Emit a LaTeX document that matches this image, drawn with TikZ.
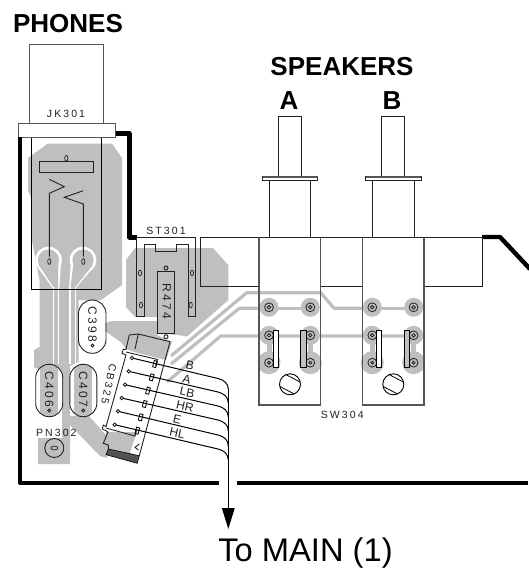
\documentclass[tikz,border=0pt]{standalone}
\usepackage{fontspec}
\usetikzlibrary{arrows.meta}
\setmainfont{Liberation Sans}
\newfontfamily\plotfont[LetterSpace=20]{Liberation Sans}
\definecolor{copper}{HTML}{BFBFBF}
\definecolor{ink}{HTML}{222222}
\definecolor{edge}{HTML}{555555}
\tikzset{
  cu/.style={fill=copper,draw=none},
  track/.style={draw=copper,line width=3.2pt,line join=round},
  thin/.style={draw=ink,line width=0.9pt},
  body/.style={draw=edge,line width=1.1pt},
  heavy/.style={draw=black,line width=4.4pt,line join=round},
  wire/.style={draw=black,line width=1pt},
  title/.style={font=\bfseries\fontsize{26}{26}\selectfont,anchor=base,inner sep=0pt},
  plot/.style={font=\plotfont\fontsize{10.5}{10.5}\selectfont,inner sep=0pt,text=ink},
  capl/.style={font=\plotfont\fontsize{12}{12}\selectfont,inner sep=0pt,text=ink},
  wl/.style={font=\fontsize{12}{12}\selectfont,inner sep=0pt,rotate=-13,text=ink},
  stub/.style={draw=black,line width=0.8pt,fill=none,minimum width=3.2pt,minimum height=6.5pt,inner sep=0pt,rotate=-15},
}
\newcommand{\zeroV}[2]{\draw[thin,line width=0.7pt] (#1,#2) ellipse [x radius=1.6pt,y radius=2.9pt];}
\begin{document}
\begin{tikzpicture}[x=1pt,y=-1pt]
\useasboundingbox (0,0) rectangle (528,568);
\fill[white] (0,0) rectangle (528,568);
% copper: under the jack
\fill[cu] (28,158) -- (48,143.5) -- (112,143.5) -- (122,158) -- (122,285) -- (101,300) -- (78.5,300) -- (78.5,362) -- (70,366) -- (70,416) -- (88,415) -- (107,436) -- (107,458) -- (100,456) -- (70,425) -- (70,464) -- (38,464) -- (38,438) -- (62,438) -- (62,372) -- (34,368) -- (34,350) -- (39.5,347) -- (39.5,280) -- (36,262) -- (32,240) -- (32,200) -- (28,190) -- cycle;
% copper: around ST301
\fill[cu] (135,248) -- (213,248) -- (228.3,265) -- (228.3,300) -- (187,336.5) -- (178,335) -- (157,333) -- (157,317) -- (135,317) -- (126,307) -- (126,260) -- cycle;
\fill[cu] (105,323) -- (112,321) -- (157,321) -- (157,335) -- (172,342) -- (166,360) -- (134,352) -- (126,349) -- (122,343) -- (105,331) -- cycle;
\fill[cu] (106,432) -- (137,432) -- (128,458) -- (104,452) -- cycle;
% rings and channels below the jack
\foreach \px/\tx in {48.5/56,83/72.5}{
  \fill[white] (\px,260) circle [radius=13.3pt];
  \fill[white] (\px-12.3,265) -- (\px+12.3,265) -- (\tx+3.4,288) -- (\tx-3.4,288) -- cycle;
  \fill[cu] (\px,260) circle [radius=10.6pt];
  \fill[cu] (\px-9.8,265) -- (\px+9.8,265) -- (\tx+2,288) -- (\tx-2,288) -- cycle;
  \fill[white] (\tx-3.4,287) rectangle (\tx-2,364);
  \fill[white] (\tx+2,287) rectangle (\tx+3.4,364);
}
% tracks to the switches
\path[track] (171,356) -- (246.7,292.7) -- (320.7,292.7) -- (334,308.3) -- (363.3,308.3);
\path[track] (171,364) -- (239.3,308.3) -- (269,308.3);
\path[track] (167,382) -- (220.7,336) -- (410,336);
\path[track] (310,308.3) -- (270,308.3);
\path[track] (372,308.3) -- (414,308.3);
\foreach \x in {269,310.3,372.3,413.7}{
  \fill[copper] (\x,307.3) circle [radius=9.5pt];
  \fill[copper] (\x,335.3) circle [radius=9.5pt];
  \fill[copper] (\x,362.7) circle [radius=11.5pt];
  \fill[copper] (\x-2.5,335) rectangle (\x+2.5,362);
}
% phone jack
\node[draw=edge,line width=1pt,minimum width=74pt,minimum height=80pt,inner sep=0pt] (plug) at (66,84) {};
\node[draw=black,line width=1pt,minimum width=70pt,minimum height=152pt,inner sep=0pt] (jackbody) at (66.5,213) {};
\node[draw=edge,line width=1pt,fill=white,minimum width=97pt,minimum height=13.5pt,inner sep=0pt] (flange) at (66.5,130.5) {};
\node[plot] (jk) at (66,113.7) {JK301};
\node[draw=ink,line width=0.9pt,minimum width=54pt,minimum height=10.6pt,inner sep=0pt] (bar) at (66.3,167) {};
\zeroV{66.3}{158.3}
\draw[thin] (49.3,256.7) -- (49.3,193.3) -- (64.3,186.7) -- (49.3,179.3);
\draw[thin] (83.3,256.7) -- (83.3,204) -- (64.3,197.3) -- (83.3,190.7);
\zeroV{49.3}{261.5}
\zeroV{83.3}{261.5}
% heavy chassis line
\draw[heavy] (flange.east |- 0,133.5) -- (129.3,133.5) -- (129.3,237.3) -- (137,237.3);
\draw[heavy] (20,137) -- (20,482.7) -- (219,482.7);
\draw[heavy] (237,482.7) -- (528,482.7);
\draw[heavy] (482,237) -- (500,237) -- (530,269);
% ST301
\draw[thin] (136.7,237.3) -- (195,237.3) -- (195,316.7) -- (188.3,316.7) -- (188.3,244) -- (176.7,244) -- (176.7,251.7) -- (155.7,251.7) -- (155.7,244) -- (144,244) -- (144,316.7) -- (136.7,316.7) -- cycle;
\node[plot] (st) at (166,230.5) {ST301};
\zeroV{140}{273}
\zeroV{141}{305}
\zeroV{192}{273}
\zeroV{190.7}{305}
% R474
\node[draw=ink,line width=0.9pt,minimum width=17pt,minimum height=62pt,inner sep=0pt] (res) at (166.2,302.3) {};
\node[capl,rotate=-90] (restext) at (166.7,301.5) {R474};
\draw[thin] (166,268) circle [radius=2pt];
\draw[thin] (166,336.7) circle [radius=2pt];
% rear panel lines
\draw[draw=ink,line width=0.9pt] (259,286) -- (200.7,286) -- (200.7,237) -- (482,237) -- (482,286) -- (424,286);
\draw[draw=ink,line width=0.9pt] (320.7,286) -- (362.3,286);
% switches
\foreach \o/\n in {0/a,103.3/b}{
  \begin{scope}[xshift=\o pt]
  \draw[thin] (278.3,176.7) -- (278.3,116.3) -- (301.3,116.3) -- (301.3,176.7);
  \draw[thin,fill=white] (262.3,176.7) rectangle (317.7,180.7);
  \draw[edge,line width=1.3pt] (262.5,177) -- (317.5,177);
  \draw[thin] (269.3,180.7) -- (269.3,237);
  \draw[thin] (310.7,180.7) -- (310.7,237);
  \draw[body] (259,237) -- (259,405) -- (320.7,405) -- (320.7,237);
  % pads
  \foreach \x in {269,310.3}{
    \draw[ink,line width=0.8pt] (\x,307.3) circle [radius=4.4pt];
    \draw[ink,line width=0.8pt] (\x,307.3) circle [radius=1.8pt];
    \draw[ink,line width=0.8pt] (\x,335.3) circle [radius=4.4pt];
    \draw[ink,line width=0.8pt] (\x,335.3) circle [radius=1.8pt];
    \draw[ink,line width=0.8pt] (\x,362.7) circle [radius=4.4pt];
    \draw[ink,line width=0.8pt] (\x,362.7) circle [radius=1.5pt];
  }
  \draw[draw=black,line width=0.9pt,fill=white] (273.3,330.3) rectangle (278.3,367.3);
  \draw[draw=black,line width=0.9pt,fill=copper] (300.7,330.3) rectangle (306,367.3);
  % screw
  \draw[draw=black,line width=0.9pt,fill=white] (290,384.3) circle [radius=10.5pt];
  \begin{scope}
    \clip (290,384.3) circle [radius=10.5pt];
    \draw[draw=black,line width=0.8pt] (279,371) -- (301,382.5);
    \draw[draw=black,line width=0.8pt] (279,386) -- (301,397.5);
  \end{scope}
  \end{scope}
}
\node[plot] (sw) at (342.3,415) {SW304};
% capacitors
\draw[thin,rounded corners=13.7pt] (78.5,300) rectangle (106,353.3);
\node[capl,rotate=-90] (c398) at (92.5,324.5) {C398};
\draw[thin] (92.5,345.5) circle [radius=1.5pt];
\foreach \cx/\lab in {49.2/C406,83.3/C407}{
  \begin{scope}
    \clip[rounded corners=13.3pt] (\cx-13.5,364.3) rectangle (\cx+13.5,416.7);
    \fill[white] (\cx-14,364) rectangle (\cx+14,417);
    \fill[copper] (\cx-9,364) rectangle (\cx+9,417);
  \end{scope}
  \draw[thin,rounded corners=13.3pt] (\cx-13.5,364.3) rectangle (\cx+13.5,416.7);
  \node[capl,rotate=-90] at (\cx,389.5) {\lab};
  \draw[thin] (\cx,410.5) circle [radius=1.5pt];
}
% PN302
\node[plot] (pn) at (56.3,433) {PN302};
\node[draw=ink,line width=0.9pt,circle,minimum size=19pt,inner sep=0pt] (pnc) at (54.3,448) {};
\draw[thin,line width=0.7pt] (54.3,448) ellipse [x radius=3.5pt,y radius=1.9pt];
% connector CB325
\draw[thin] (138.3,334) -- (170,341.7) -- (139.3,455.7);
\draw[thin] (138.3,334) -- (135,349);
\draw[thin] (138.3,334) -- (129.3,335) -- (126,349.3) -- (123.3,349.3) -- (122,353.3) -- (126,355) -- (106,426.7) -- (103.3,425) -- (102.3,429) -- (106,430.7) -- (108,432) -- (103.3,443.3) -- (108.3,445) -- (108.3,449);
\draw[thin] (126,352) -- (157.5,359.5) -- (155.5,366);
\draw[thin] (106,428) -- (135,436) -- (136.5,430);
\draw[thin] (139.3,444) -- (135,447.3) -- (138.3,450);
\fill[black!68] (108.3,449) -- (106,454.7) -- (137.3,463.3) -- (139.3,455.7) -- cycle;
\draw[black,line width=0.6pt] (108.3,449) -- (106,454.7) -- (137.3,463.3) -- (139.3,455.7) -- cycle;
\node[plot,rotate=-102] (cb) at (109,384) {CB325};
% wires
\coordinate (bus) at (228.3,389);
\foreach \nm/\sx/\sy/\rx/\ry/\ex/\ey/\ty in {
  B/132/358/155/364/218/378.5/389,
  A/128.7/371.3/151.7/377.3/218/392/403,
  LB/125/384.7/148/390.7/218/406/417,
  HR/121.7/398/144.7/404/218/420/431,
  E/118/411.3/140.7/417.3/218/435/446,
  HL/114.7/424.7/137.3/430.7/218/449/460}{
  \node[stub] (r\nm) at (\rx,\ry) {};
  \draw[thin] (\sx,\sy) circle [radius=1.7pt];
  \draw[wire] (\sx+1.7,\sy+.4) -- (\ex,\ey) .. controls (224,\ey+1.5) and (228.3,\ey+5) .. (228.3,\ty);
}
\coordinate (arrowend) at (228.3,529);
\draw[black,line width=1.3pt,-{Triangle[length=21pt,width=12.6pt]}] (bus) -- (arrowend);
\node[wl] (lB) at (190,365.7) {B};
\node[wl] (lA) at (186.7,379) {A};
\node[wl] (lLB) at (187.3,392.3) {LB};
\node[wl] (lHR) at (185,406) {HR};
\node[wl] (lE) at (177.3,419) {E};
\node[wl] (lHL) at (177.3,433.6) {HL};
% titles
\node[title] (phones) at (68,32.5) {PHONES};
\node[title] (speakers) at (342,75) {SPEAKERS};
\node[title] (spa) at (289,109) {A};
\node[title] (spb) at (392,109) {B};
\node[inner sep=0pt,anchor=base,font=\fontsize{32.7}{32.7}\selectfont,text=black] (tomain) at (305.5,561.7) {To MAIN (1)};
\end{tikzpicture}
\end{document}
